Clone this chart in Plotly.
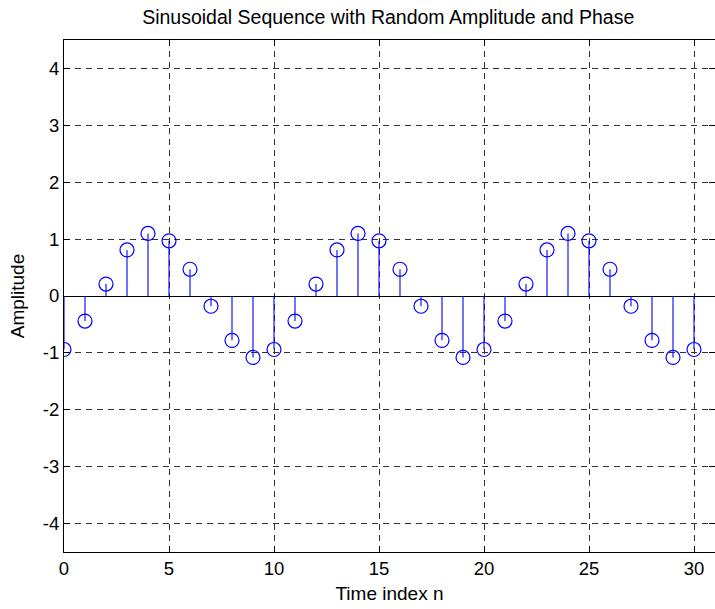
import plotly.graph_objects as go

n = list(range(31))
amplitude = [-0.94, -0.44, 0.21, 0.81, 1.10, 0.97, 0.47, -0.18, -0.78, -1.08,
             -0.94, -0.44, 0.21, 0.81, 1.10, 0.97, 0.47, -0.18, -0.78, -1.08,
             -0.94, -0.44, 0.21, 0.81, 1.10, 0.97, 0.47, -0.18, -0.78, -1.08,
             -0.94]
x_ticks = [0, 5, 10, 15, 20, 25, 30]
y_ticks = [-4, -3, -2, -1, 0, 1, 2, 3, 4]
y_tick_labels = ["-4", "-3", "-2", "-1", "0", "1", "2", "3", "4"]

FONT = "Liberation Sans, Arial, Helvetica, sans-serif"

stem_x, stem_y = [], []
for xi, yi in zip(n, amplitude):
    stem_x += [xi, xi, None]
    stem_y += [0, yi, None]

fig = go.Figure()
fig.add_trace(go.Scatter(x=stem_x, y=stem_y, mode="lines",
                         line=dict(color="#0000ff", width=1.1), hoverinfo="skip",
                         showlegend=False))
fig.add_trace(go.Scatter(x=n, y=amplitude, mode="markers",
                         marker=dict(symbol="circle-open", size=14,
                                     color="#0000ff", line=dict(width=1.2)),
                         showlegend=False))

axis_common = dict(
    showline=True, linecolor="black", linewidth=1, mirror="ticks",
    ticks="inside", ticklen=6, tickcolor="black", tickwidth=1,
    showgrid=True, gridcolor="#333", gridwidth=1, griddash="6px,5px",
    tickfont=dict(family=FONT, size=18.5, color="black"),
)

fig.update_xaxes(range=[0, 31], tickvals=x_ticks, zeroline=False,
                 title=dict(text="Time index n", font=dict(family=FONT, size=19, color="black"), standoff=8),
                 **axis_common)
fig.update_yaxes(range=[-4.5, 4.5], tickvals=y_ticks, ticktext=y_tick_labels,
                 zeroline=True, zerolinecolor="black", zerolinewidth=1,
                 title=dict(text="Amplitude", font=dict(family=FONT, size=19, color="black"), standoff=13),
                 **axis_common)

fig.update_layout(
    width=715, height=609,
    margin=dict(l=64, r=0, t=40, b=57),
    plot_bgcolor="white", paper_bgcolor="white",
    title=dict(text="Sinusoidal Sequence with Random Amplitude and Phase",
               font=dict(family=FONT, size=19.5, color="black"),
               x=0.543, xanchor="center", y=0.972, yanchor="middle"),
)

fig.write_html("out.html")
